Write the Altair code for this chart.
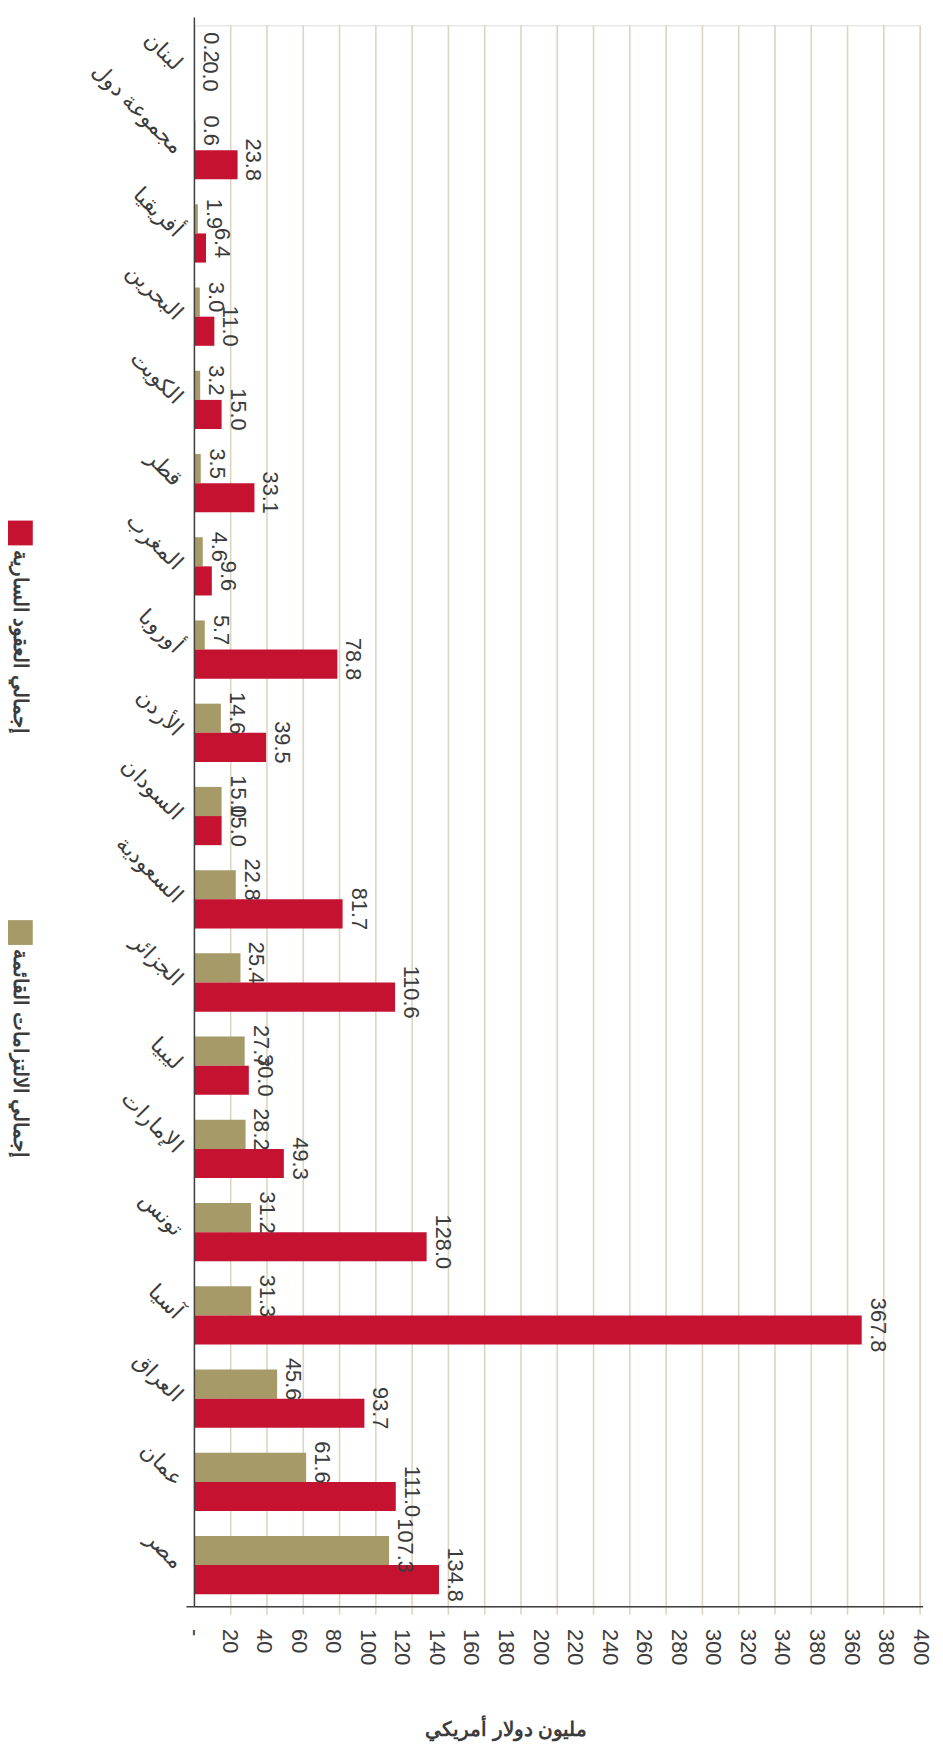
import json
import altair as alt
import pandas as pd

categories = ["لبنان", "مجموعة دول", "أفريقيا", "البحرين", "الكويت", "قطر", "المغرب",
              "أوروبا", "الأردن", "السودان", "السعودية", "الجزائر", "ليبيا", "الإمارات",
              "تونس", "آسيا", "العراق", "عمان", "مصر"]
commitments = [0.2, 0.6, 1.9, 3.0, 3.2, 3.5, 4.6, 5.7, 14.6, 15.0, 22.8, 25.4, 27.7,
               28.2, 31.2, 31.3, 45.6, 61.6, 107.3]
contracts = [0.0, 23.8, 6.4, 11.0, 15.0, 33.1, 9.6, 78.8, 39.5, 15.0, 81.7, 110.6, 30.0,
             49.3, 128.0, 367.8, 93.7, 111.0, 134.8]
series = ["إجمالي الالتزامات القائمة", "إجمالي العقود السارية"]
colors = ["#a59a68", "#c41230"]
tick_labels = ["-", "20", "40", "60", "80", "100", "120", "140", "160", "180", "200",
               "220", "240", "260", "280", "300", "320", "340", "380", "360", "380", "400"]
grid_values = [20, 40, 60, 80, 100, 120, 140, 160, 180, 200, 220, 240, 260, 280, 300,
               320, 340, 360, 380, 400]
axis_title = "مليون دولار أمريكي"

W, H = 732, 1595
FONT = "Arial"
TXT = "#3c3c3c"

rows = []
for c, a, b in zip(categories, commitments, contracts):
    rows.append({"category": c, "series": series[0], "value": a, "label": f"{a:.1f}"})
    rows.append({"category": c, "series": series[1], "value": b, "label": f"{b:.1f}"})
df = pd.DataFrame(rows)

n = len(tick_labels)
label_vals = [i * 400 / (n - 1) for i in range(n)]
label_expr = json.dumps(tick_labels) + f"[round(datum.value*{n-1}/400)]"

x_scale = alt.Scale(domain=[0, 400], nice=False, zero=True)
x_axis = alt.Axis(values=label_vals, labelExpr=label_expr, labelAngle=90, labelAlign="left",
                  labelBaseline="middle", labelFontSize=22, labelFont=FONT, labelColor=TXT,
                  labelPadding=22, labelOverlap=False, labelFlush=False, ticks=False,
                  tickSize=0, domain=False, grid=False,
                  title=axis_title, titleFont=FONT, titleFontSize=20, titleFontWeight="bold",
                  titleColor=TXT, titleAngle=0, titleAlign="center", titleBaseline="middle",
                  titleX=314, titleY=124)
x_enc = alt.X("value:Q", scale=x_scale, axis=x_axis)

y_enc = alt.Y("category:N", sort=categories,
              scale=alt.Scale(paddingInner=0.3, paddingOuter=0.15),
              axis=alt.Axis(domain=False, ticks=False, grid=False, title=None,
                            labelAngle=45, labelAlign="right", labelBaseline="middle",
                            labelFontSize=22, labelFont=FONT, labelColor=TXT,
                            labelPadding=16, labelLimit=300))
yoff = alt.YOffset("series:N", sort=series, scale=alt.Scale(paddingInner=0, paddingOuter=0))
color = alt.Color("series:N", scale=alt.Scale(domain=series, range=colors), legend=None)

grid = alt.Chart(pd.DataFrame({"value": grid_values})).mark_rule(
    color="#dcd5bf", strokeWidth=1.6).encode(
    x=x_enc, y=alt.value(0), y2=alt.value(H + 8))

bars = alt.Chart(df).mark_bar().encode(x=x_enc, y=y_enc, yOffset=yoff, color=color)

labels = alt.Chart(df).mark_text(angle=90, align="center", baseline="alphabetic", dy=-9,
                                 dx=-5, fontSize=22, font=FONT, color=TXT).encode(
    x=x_enc, y=y_enc, yOffset=yoff, text="label:N")

one = pd.DataFrame({"k": [0]})
vline = alt.Chart(one).mark_rule(color="#404040", strokeWidth=1.5).encode(
    x=alt.value(0), y=alt.value(-8), y2=alt.value(H))
hline = alt.Chart(one).mark_rule(color="#404040", strokeWidth=1.5).encode(
    x=alt.value(-8), x2=alt.value(W + 3), y=alt.value(H))

legend_layers = []
legend_pos = [(series[1], colors[1], 512), (series[0], colors[0], 915)]
for name, col, ypos in legend_pos:
    d = pd.DataFrame({"name": [name]})
    legend_layers.append(alt.Chart(d).mark_square(size=625, color=col, opacity=1).encode(
        x=alt.value(-175.5), y=alt.value(ypos)))
    legend_layers.append(alt.Chart(d).mark_text(angle=90, align="left", baseline="middle",
                                                fontSize=20, fontWeight="bold", font=FONT,
                                                color=TXT).encode(
        x=alt.value(-175.5), y=alt.value(ypos + 17), text="name:N"))

chart = alt.layer(grid, bars, labels, vline, hline, *legend_layers).properties(
    width=W, height=H,
    autosize=alt.AutoSizeParams(type="none"),
    padding={"left": 188, "top": 10, "right": 15, "bottom": 137},
).configure_view(stroke=None).configure(background="white")

chart.save("out.html", embed_options={"renderer": "svg", "actions": False})
